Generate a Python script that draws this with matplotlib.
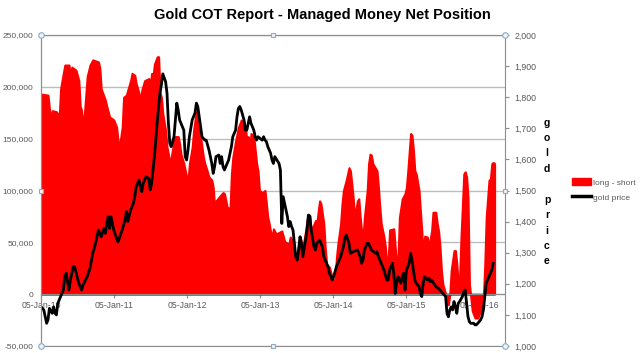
import matplotlib

matplotlib.use("Agg")

import matplotlib.pyplot as plt
import matplotlib.dates as mdates
import numpy as np
from matplotlib.lines import Line2D
from matplotlib.patches import Patch
from matplotlib.ticker import FuncFormatter

plt.rcParams["font.family"] = ["Liberation Sans", "DejaVu Sans"]

START = np.datetime64("2010-01-05")
X_END = np.datetime64("2016-05-13")

TITLE = "Gold COT Report - Managed Money Net Position"
YEAR_TICKS = ["2010-01-05", "2011-01-05", "2012-01-05", "2013-01-05",
              "2014-01-05", "2015-01-05", "2016-01-05"]

# managed money net position (long - short), thousands of contracts, by week since 05-Jan-10
NET_WEEK = [
    0, 5, 6, 7, 8, 11, 13, 14, 15, 17, 20, 21, 22, 25, 27, 28, 29, 30, 31, 33,
    35, 37, 41, 42, 43, 46, 47, 49, 52, 54, 55, 56, 58, 59, 61, 62, 64, 65, 67, 68,
    70, 71, 72, 74, 77, 78, 79, 80, 81, 83, 84, 85, 86, 87, 89, 90, 91, 92, 93, 95,
    96, 98, 99, 100, 102, 104, 105, 106, 108, 109, 110, 111, 112, 114, 115, 116, 117, 118, 120, 122,
    123, 124, 125, 128, 130, 131, 133, 135, 136, 137, 139, 141, 143, 145, 146, 147, 148, 149, 150, 152,
    153, 154, 155, 156, 158, 160, 161, 162, 163, 164, 165, 166, 168, 172, 174, 177, 178, 180, 181, 183,
    184, 185, 187, 189, 190, 191, 192, 193, 196, 197, 198, 199, 200, 202, 203, 204, 206, 208, 209, 210,
    211, 212, 214, 215, 216, 218, 220, 221, 222, 223, 224, 226, 227, 228, 229, 230, 231, 233, 234, 235,
    236, 237, 240, 241, 242, 243, 245, 246, 247, 248, 249, 252, 253, 254, 255, 256, 258, 260, 261, 262,
    264, 265, 266, 267, 268, 270, 271, 272, 273, 274, 276, 277, 279, 280, 282, 283, 284, 285, 286, 287,
    289, 290, 291, 292, 293, 295, 296, 297, 298, 299, 300, 302, 303, 304, 305, 306, 308, 310, 312, 314,
    315, 316, 317, 318, 320, 321, 322, 323, 324,
]
NET_POSITION_K = [
    193, 192, 179, 168, 177, 176, 171, 198, 206, 221, 221, 211, 219, 216, 206, 181, 177, 158, 174, 210,
    221, 226, 224, 218, 198, 187, 181, 171, 168, 161, 148, 142, 161, 190, 192, 197, 206, 213, 211, 203,
    194, 184, 197, 206, 208, 200, 213, 210, 222, 229, 229, 194, 190, 174, 158, 142, 135, 126, 132, 148,
    152, 152, 145, 135, 126, 113, 110, 126, 142, 158, 168, 176, 168, 152, 142, 132, 126, 122, 113, 110,
    103, 84, 90, 95, 98, 97, 84, 82, 116, 132, 148, 161, 168, 166, 161, 148, 152, 139, 155, 152,
    139, 126, 119, 100, 98, 100, 87, 74, 68, 60, 55, 63, 58, 61, 51, 48, 55, 51, 35, 35,
    48, 56, 45, 61, 71, 77, 76, 61, 71, 68, 80, 90, 87, 68, 45, 29, 26, 16, 13, 14,
    35, 48, 68, 87, 100, 110, 122, 119, 106, 93, 74, 90, 92, 74, 61, 55, 74, 100, 126, 135,
    134, 126, 119, 103, 84, 68, 55, 45, 30, 33, 62, 63, 45, 29, 35, 74, 92, 97, 103, 119,
    155, 153, 139, 119, 116, 100, 80, 61, 35, 56, 55, 45, 61, 79, 79, 68, 61, 45, 23, 10,
    0, -10, -10, 0, 23, 42, 42, 29, 10, 16, 55, 116, 118, 113, 93, 10, -16, -23, -23, -16,
    -13, -3, 29, 74, 110, 111, 126, 127, 126,
]

# gold price, USD/oz, by week since 05-Jan-10
PRICE_WEEK = [
    0, 2, 4, 5, 6, 8, 9, 10, 11, 12, 14, 16, 17, 18, 20, 21, 23, 24, 27, 29,
    30, 33, 35, 37, 39, 40, 41, 42, 43, 45, 46, 47, 48, 49, 50, 52, 54, 55, 58, 60,
    61, 62, 64, 66, 67, 68, 70, 71, 72, 73, 75, 77, 78, 79, 80, 81, 82, 83, 84, 85,
    86, 87, 89, 90, 91, 92, 93, 95, 96, 97, 98, 99, 100, 102, 103, 104, 105, 106, 108, 109,
    110, 111, 112, 113, 115, 117, 118, 120, 121, 122, 123, 124, 125, 127, 128, 129, 130, 131, 133, 134,
    135, 136, 137, 139, 140, 141, 142, 143, 145, 146, 147, 148, 149, 150, 152, 153, 154, 155, 158, 159,
    160, 161, 162, 164, 165, 166, 167, 170, 171, 172, 173, 174, 176, 177, 178, 179, 180, 182, 183, 184,
    185, 186, 187, 189, 190, 191, 192, 193, 195, 196, 197, 199, 201, 202, 204, 205, 206, 208, 209, 211,
    214, 216, 217, 218, 220, 221, 223, 226, 228, 229, 230, 231, 233, 234, 236, 239, 240, 241, 243, 245,
    247, 248, 249, 251, 252, 253, 254, 255, 257, 258, 259, 260, 261, 263, 264, 265, 266, 267, 268, 270,
    271, 272, 273, 274, 276, 277, 278, 279, 282, 284, 286, 289, 290, 291, 292, 293, 294, 295, 296, 297,
    298, 299, 301, 302, 303, 304, 305, 306, 307, 309, 310, 311, 312, 314, 315, 316, 317, 318, 320, 321,
    322, 323,
]
GOLD_PRICE = [
    1126, 1116, 1073, 1084, 1121, 1105, 1126, 1105, 1100, 1137, 1159, 1180, 1223, 1234, 1180, 1212, 1255, 1255, 1202, 1180,
    1196, 1223, 1250, 1298, 1330, 1351, 1373, 1362, 1351, 1378, 1362, 1394, 1416, 1378, 1416, 1373, 1346, 1335, 1373, 1405,
    1432, 1400, 1437, 1459, 1480, 1512, 1534, 1512, 1496, 1523, 1544, 1539, 1502, 1523, 1566, 1609, 1662, 1720, 1770, 1815,
    1840, 1875, 1850, 1813, 1717, 1652, 1641, 1673, 1727, 1781, 1759, 1727, 1716, 1694, 1609, 1598, 1630, 1673, 1727, 1738,
    1749, 1781, 1770, 1737, 1673, 1662, 1662, 1630, 1609, 1587, 1555, 1577, 1609, 1614, 1587, 1609, 1577, 1566, 1587, 1598,
    1620, 1641, 1673, 1694, 1737, 1764, 1770, 1759, 1727, 1694, 1694, 1716, 1737, 1716, 1694, 1673, 1662, 1673, 1662, 1673,
    1662, 1657, 1641, 1620, 1598, 1587, 1609, 1587, 1566, 1394, 1480, 1459, 1416, 1384, 1400, 1384, 1373, 1287, 1276, 1309,
    1351, 1330, 1287, 1341, 1373, 1421, 1416, 1373, 1319, 1309, 1330, 1341, 1319, 1287, 1266, 1255, 1234, 1212, 1223, 1255,
    1287, 1319, 1346, 1357, 1330, 1298, 1303, 1309, 1287, 1266, 1276, 1309, 1330, 1330, 1309, 1298, 1303, 1287, 1266, 1244,
    1212, 1212, 1244, 1266, 1234, 1169, 1202, 1223, 1202, 1223, 1234, 1180, 1244, 1266, 1298, 1276, 1244, 1212, 1202, 1191,
    1169, 1159, 1202, 1223, 1212, 1218, 1207, 1212, 1191, 1185, 1175, 1159, 1105, 1094, 1116, 1126, 1116, 1143, 1126, 1105,
    1137, 1143, 1159, 1175, 1180, 1137, 1094, 1078, 1073, 1073, 1068, 1068, 1073, 1084, 1094, 1116, 1159, 1202, 1223, 1234,
    1244, 1266,
]

GRAY = "#8c8c8c"
TEXT = "#595959"


def week_dates(weeks):
    return START + np.asarray(weeks) * np.timedelta64(7, "D")


def main() -> None:
    fig = plt.figure(figsize=(6.4, 3.53), dpi=100)
    ax = fig.add_axes([41 / 640, 1 - 346 / 353, 464 / 640, 311 / 353])

    net_dates = week_dates(NET_WEEK)
    net = np.asarray(NET_POSITION_K) * 1000
    ax.fill_between(net_dates, 0, net, facecolor="#ff0000", edgecolor="#ff0000",
                    linewidth=1.5, zorder=1)

    ax.set_ylim(-50000, 250000)
    ax.set_yticks(np.arange(-50000, 250001, 50000))
    ax.yaxis.set_major_formatter(FuncFormatter(lambda v, _: f"{v:,.0f}"))
    ax.yaxis.grid(True, color="#bdbdbd", linewidth=1.0)
    ax.set_axisbelow(True)

    ax.set_xlim(START, X_END)
    ax.set_xticks(np.array(YEAR_TICKS, dtype="datetime64[D]"))
    ax.xaxis.set_major_formatter(mdates.DateFormatter("%d-%b-%y"))

    ax.spines["bottom"].set_position(("data", 0))
    ax.spines["right"].set_visible(False)
    for side in ("bottom", "left", "top"):
        ax.spines[side].set_color(GRAY)
    ax.tick_params(axis="x", colors=GRAY, labelcolor=TEXT, labelsize=6.3,
                   length=3, pad=2)
    ax.tick_params(axis="y", colors=GRAY, labelcolor=TEXT, labelsize=6.0,
                   length=0, pad=5.5)

    ax2 = ax.twinx()
    ax2.plot(week_dates(PRICE_WEEK), GOLD_PRICE, color="black", linewidth=2.0,
             solid_joinstyle="round")
    ax2.set_ylim(1000, 2000)
    ax2.set_yticks(np.arange(1000, 2001, 100))
    ax2.yaxis.set_major_formatter(FuncFormatter(lambda v, _: f"{v:,.0f}"))
    ax2.tick_params(axis="y", colors=GRAY, labelcolor=TEXT, labelsize=6.3,
                    length=3, pad=4)
    for spine in ax2.spines.values():
        spine.set_color(GRAY)

    # plot-area selection handles
    for hx, hy in [(0, 0), (1, 0), (0, 1), (1, 1)]:
        ax2.plot(hx, hy, "o", ms=4, mfc="#eef3f8", mec="#8fa9c4", mew=0.8,
                 transform=ax2.transAxes, clip_on=False, zorder=5)
    for hx, hy in [(0.5, 0), (0.5, 1), (0, 0.5), (1, 0.5)]:
        ax2.plot(hx, hy, "s", ms=3.5, mfc="#eef3f8", mec="#8fa9c4", mew=0.8,
                 transform=ax2.transAxes, clip_on=False, zorder=5)

    fig.text(0.503, 1 - 15 / 353, TITLE, ha="center", va="center",
             fontsize=10.5, fontweight="bold", color="black")

    fig.text(547 / 640, 1 - 192 / 353, "\n".join("gold price"), ha="center",
             va="center", fontsize=7.5, fontweight="bold", linespacing=1.68)

    handles = [Patch(facecolor="#ff0000", edgecolor="#ff0000"),
               Line2D([], [], color="black", linewidth=2.5)]
    fig.legend(handles, ["long - short", "gold price"], loc="center left",
               bbox_to_anchor=(568 / 640, 1 - 190 / 353), frameon=False,
               fontsize=6.0, handlelength=2.2, handleheight=0.9,
               handletextpad=0.3, labelspacing=0.8, borderpad=0,
               labelcolor=TEXT)

    fig.savefig("out.png", dpi=100)


if __name__ == "__main__":
    main()
